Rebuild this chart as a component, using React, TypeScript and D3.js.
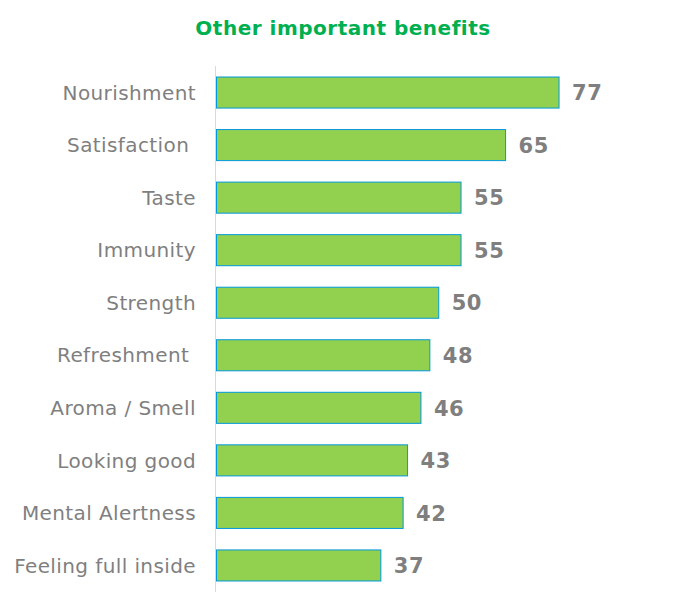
import React from "react";
import * as d3 from "d3";

const categories = [
  "Nourishment",
  "Satisfaction ",
  "Taste",
  "Immunity",
  "Strength",
  "Refreshment ",
  "Aroma / Smell",
  "Looking good",
  "Mental Alertness",
  "Feeling full inside",
];
const values = [77, 65, 55, 55, 50, 48, 46, 43, 42, 37];
const title = "Other important benefits";

const W = 686;
const H = 616;

export default function App() {
  const x = d3.scaleLinear().domain([0, 100]).range([216, 216 + 445.5]);
  const y = d3
    .scaleBand<string>()
    .domain(categories)
    .range([66, 592])
    .paddingInner(0.39)
    .paddingOuter(0.2);
  const font = "Verdana, 'DejaVu Sans', sans-serif";
  return (
    <svg
      width={W}
      height={H}
      style={{ position: "absolute", left: 0, top: 0, background: "#fff" }}
    >
      <text
        x={343}
        y={35}
        textAnchor="middle"
        fontFamily={font}
        fontWeight="bold"
        fontSize={20}
        letterSpacing={0.5}
        fill="#00B050"
      >
        {title}
      </text>
      <line x1={215.5} x2={215.5} y1={66} y2={592} stroke="#D9D9D9" strokeWidth={1} />
      {categories.map((c, i) => {
        const yy = y(c)!;
        const bw = y.bandwidth();
        return (
          <g key={c}>
            <rect
              x={x(0) + 0.5}
              y={yy + 0.5}
              width={x(values[i]) - x(0) - 0.5}
              height={bw - 1}
              fill="#92D050"
              stroke="#0098DA"
              strokeWidth={1}
            />
            <text
              x={196}
              y={yy + bw / 2}
              dy="0.36em"
              textAnchor="end"
              fontFamily={font}
              fontSize={20}
              letterSpacing={0.4}
              fill="#7F7F7F"
              style={{ whiteSpace: "pre" }}
            >
              {c}
            </text>
            <text
              x={x(values[i]) + 13}
              y={yy + bw / 2}
              dy="0.37em"
              fontFamily={font}
              fontWeight="bold"
              fontSize={21}
              letterSpacing={0.5}
              fill="#7F7F7F"
            >
              {values[i]}
            </text>
          </g>
        );
      })}
    </svg>
  );
}
